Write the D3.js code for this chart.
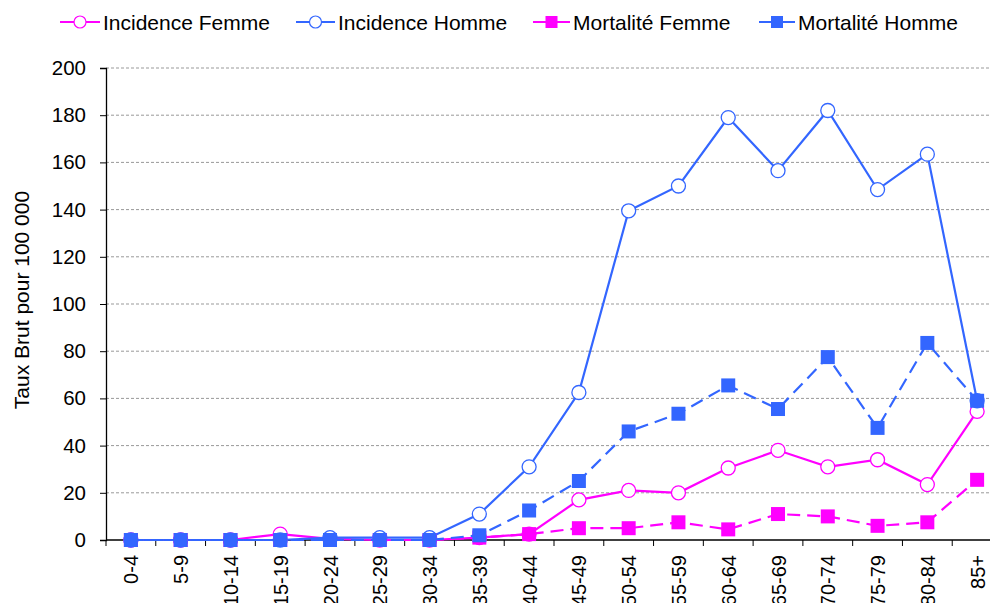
<!DOCTYPE html>
<html>
<head>
<meta charset="utf-8">
<script src="https://cdn.jsdelivr.net/npm/d3@7"></script>
<style>
  body { margin: 0; background: #fff; }
  svg { display: block; font-family: "Liberation Sans", Arial, sans-serif; }
</style>
</head>
<body>
<div id="chart"></div>
<script>
// age groups
var ageGroups = ["0-4","5-9","10-14","15-19","20-24","25-29","30-34","35-39","40-44",
                 "45-49","50-54","55-59","60-64","65-69","70-74","75-79","80-84","85+"];

// taux brut pour 100 000
var incidenceFemme = [0, 0, 0, 2.5, 0.5, 0, 0, 1, 2.5, 17, 21, 20, 30.5, 38, 31, 34, 23.5, 54.5];
var incidenceHomme = [0, 0, 0, 0, 1, 1, 1, 11, 31, 62.5, 139.5, 150, 179, 156.5, 182, 148.5, 163.5, 59];
var mortaliteFemme = [0, 0, 0, 0, 0, 0, 0, 1, 2.5, 5, 5, 7.5, 4.5, 11, 10, 6, 7.5, 25.5];
var mortaliteHomme = [0, 0, 0, 0, 0, 0, 0, 2, 12.5, 25, 46, 53.5, 65.5, 55.5, 77.5, 47.5, 83.5, 59];

var yTicks = [0, 20, 40, 60, 80, 100, 120, 140, 160, 180, 200];

var seriesList = [
  { name: "Incidence Femme", values: incidenceFemme, color: "#ff00ff", marker: "circle", dash: null },
  { name: "Incidence Homme", values: incidenceHomme, color: "#3366ff", marker: "circle", dash: null },
  { name: "Mortalité Femme", values: mortaliteFemme, color: "#ff00ff", marker: "square", dash: "13,7" },
  { name: "Mortalité Homme", values: mortaliteHomme, color: "#3366ff", marker: "square", dash: "13,7" }
];

var w = 990, h = 603;
var plotLeft = 106, plotRight = 1002, plotTop = 68, plotBottom = 540;

var svg = d3.select("#chart").append("svg")
  .attr("width", w)
  .attr("height", h);

var x = d3.scaleBand().domain(ageGroups).range([plotLeft, plotRight]);
var y = d3.scaleLinear().domain([0, 200]).range([plotBottom, plotTop]);

// grid lines
svg.append("g")
  .selectAll("line")
  .data(yTicks.filter(function(d) { return d > 0; }))
  .enter().append("line")
  .attr("x1", plotLeft).attr("x2", plotRight)
  .attr("y1", function(d) { return y(d); })
  .attr("y2", function(d) { return y(d); })
  .attr("stroke", "#999")
  .attr("stroke-width", 1)
  .attr("stroke-dasharray", "3,2");

// y axis
var yAxis = svg.append("g")
  .attr("transform", "translate(" + plotLeft + ",0)")
  .call(d3.axisLeft(y).tickValues(yTicks).tickSize(6).tickPadding(14));
yAxis.select(".domain").attr("stroke", "#000").attr("stroke-width", 1.3);
yAxis.selectAll(".tick line").attr("stroke", "#000");
yAxis.selectAll("text").attr("font-size", 20.5).attr("fill", "#000")
  .style("font-family", "'Liberation Sans', Arial, sans-serif");

// x axis: ticks on category boundaries
svg.append("line")
  .attr("x1", plotLeft).attr("x2", plotRight)
  .attr("y1", plotBottom).attr("y2", plotBottom)
  .attr("stroke", "#000").attr("stroke-width", 1.3);

svg.append("g")
  .selectAll("line")
  .data(ageGroups)
  .enter().append("line")
  .attr("x1", function(d) { return x(d); })
  .attr("x2", function(d) { return x(d); })
  .attr("y1", plotBottom).attr("y2", plotBottom + 6)
  .attr("stroke", "#000");

svg.append("g")
  .selectAll("text")
  .data(ageGroups)
  .enter().append("text")
  .attr("transform", function(d) {
    return "translate(" + (x(d) + x.bandwidth() / 2 + 7.5) + "," + (plotBottom + 15) + ") rotate(-90)";
  })
  .attr("text-anchor", "end")
  .attr("font-size", 20)
  .attr("fill", "#000")
  .text(function(d) { return d; });

// y axis title
svg.append("text")
  .attr("transform", "translate(29,300) rotate(-90)")
  .attr("text-anchor", "middle")
  .attr("font-size", 21)
  .attr("fill", "#000")
  .text("Taux Brut pour 100 000");

// lines and markers
var line = d3.line()
  .x(function(d, i) { return x(ageGroups[i]) + x.bandwidth() / 2; })
  .y(function(d) { return y(d); });

function drawMarker(g, type, color, cx, cy) {
  if (type == "circle") {
    g.append("circle")
      .attr("cx", cx).attr("cy", cy).attr("r", 7)
      .attr("fill", "#fff").attr("stroke", color).attr("stroke-width", 1.3);
  } else {
    g.append("rect")
      .attr("x", cx - 7).attr("y", cy - 7)
      .attr("width", 14).attr("height", 14)
      .attr("fill", color);
  }
}

seriesList.forEach(function(s) {
  var g = svg.append("g");
  g.append("path")
    .datum(s.values)
    .attr("d", line)
    .attr("fill", "none")
    .attr("stroke", s.color)
    .attr("stroke-width", 2.2)
    .attr("stroke-dasharray", s.dash);
  s.values.forEach(function(v, i) {
    drawMarker(g, s.marker, s.color, x(ageGroups[i]) + x.bandwidth() / 2, y(v));
  });
});

// legend
var legendPos = [
  { lx: 60, tx: 103 },
  { lx: 296, tx: 338 },
  { lx: 533, tx: 573 },
  { lx: 759, tx: 798 }
];
seriesList.forEach(function(s, i) {
  var g = svg.append("g");
  var p = legendPos[i];
  var ly = 22;
  g.append("line")
    .attr("x1", p.lx).attr("x2", p.tx - 3)
    .attr("y1", ly).attr("y2", ly)
    .attr("stroke", s.color).attr("stroke-width", 2.2);
  var mx = (p.lx + p.tx - 3) / 2;
  if (s.marker == "circle") {
    g.append("circle").attr("cx", mx).attr("cy", ly).attr("r", 6)
      .attr("fill", "#fff").attr("stroke", s.color).attr("stroke-width", 1.2);
  } else {
    g.append("rect").attr("x", mx - 6).attr("y", ly - 6)
      .attr("width", 12).attr("height", 12).attr("fill", s.color);
  }
  g.append("text")
    .attr("x", p.tx).attr("y", ly + 8)
    .attr("font-size", 21)
    .attr("fill", "#000")
    .text(s.name);
});
</script>
</body>
</html>
